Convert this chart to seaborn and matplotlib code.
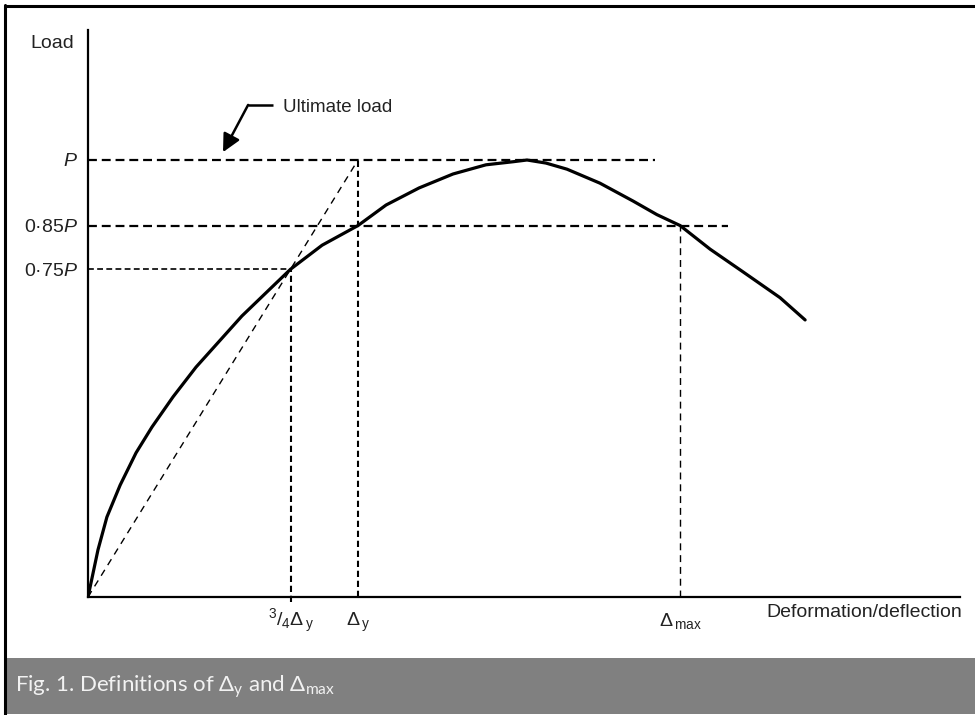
import matplotlib
matplotlib.use("Agg")
import matplotlib.pyplot as plt
import seaborn as sns
import pandas as pd
from matplotlib.lines import Line2D
from matplotlib.patches import Rectangle

# Load–deformation curve: deformation in units of Δy, load as a fraction of P
deformation = [0.0, 0.037, 0.070, 0.119, 0.178, 0.237, 0.315, 0.400, 0.570,
               0.750, 0.867, 1.000, 1.104, 1.226, 1.352, 1.474, 1.574, 1.626,
               1.696, 1.774, 1.896, 2.019, 2.107, 2.193, 2.304, 2.426, 2.563,
               2.656]
load = [0.0, 0.108, 0.183, 0.256, 0.330, 0.389, 0.458, 0.526, 0.643,
        0.750, 0.805, 0.850, 0.897, 0.936, 0.968, 0.989, 0.996, 1.000,
        0.993, 0.979, 0.947, 0.906, 0.875, 0.850, 0.796, 0.744, 0.685,
        0.634]

# Characteristic values
ultimate_load = 1.0
load_085 = 0.85
load_075 = 0.75
delta_y = 1.0
delta_34 = 0.75
delta_max = 2.193

ytick_values = [ultimate_load, load_085, load_075]
ytick_labels = ["$P$", "0·85$P$", "0·75$P$"]
xtick_values = [delta_34, delta_y, delta_max]
xtick_labels = [r"$^{3}/_{4}\Delta_{\,\mathrm{y}}$",
                r"$\Delta_{\,\mathrm{y}}$",
                r"$\Delta_{\,\mathrm{max}}$"]

sns.set_theme(style="white")
plt.rcParams["font.family"] = ["Liberation Sans", "DejaVu Sans"]
plt.rcParams["mathtext.fontset"] = "custom"
plt.rcParams["mathtext.rm"] = "Liberation Sans"
plt.rcParams["mathtext.it"] = "Liberation Sans:italic"
plt.rcParams["mathtext.bf"] = "Liberation Sans:bold"

fig = plt.figure(figsize=(9.75, 7.15), dpi=100)
fig.patch.set_facecolor("white")

# caption bar and frame
fig.add_artist(Rectangle((5 / 975, 0.002), 1 - 5 / 975, (713 - 657) / 715,
                         transform=fig.transFigure, facecolor="#808080",
                         edgecolor="none", zorder=0))
fig.add_artist(Line2D([5 / 975, 1.0], [1 - 6 / 715, 1 - 6 / 715],
                      transform=fig.transFigure, color="black", lw=2.2))
fig.add_artist(Line2D([5 / 975, 5 / 975], [1 - 5 / 715, 0.0],
                      transform=fig.transFigure, color="black", lw=2.2))
fig.text(15 / 975, (715 - 692) / 715,
         r"Fig. 1. Definitions of $\mathregular{\Delta_y}$ and $\mathregular{\Delta_{max}}$",
         family="Lato", weight="normal", fontsize=16, color="#f2f2f2",
         ha="left", va="baseline", zorder=5)

ax = fig.add_axes([88 / 975, (715 - 597) / 715, (960 - 88) / 975, (597 - 30) / 715])
ax.set_facecolor("none")

curve = pd.DataFrame({"deformation": deformation, "load": load})
sns.lineplot(data=curve, x="deformation", y="load", sort=False, estimator=None,
             color="black", lw=2.3, ax=ax, zorder=5)
for ln in ax.get_lines():
    ln.set_solid_joinstyle("round")

# secant stiffness line through the 0·75P point
ax.plot([0, delta_y], [0, ultimate_load], color="black", lw=1.0,
        ls=(0, (5, 4)), zorder=3)

# horizontal reference levels
ax.plot([0, 2.10], [ultimate_load, ultimate_load], color="black", lw=1.6,
        ls=(0, (4, 2.2)), zorder=3)
ax.plot([0, 2.37], [load_085, load_085], color="black", lw=1.6,
        ls=(0, (4, 2.2)), zorder=3)
ax.plot([0, delta_34], [load_075, load_075], color="black", lw=1.2,
        ls=(0, (3.5, 2)), zorder=3)

# vertical projections
ax.plot([delta_y, delta_y], [0, ultimate_load], color="black", lw=1.5,
        ls=(0, (3, 1.8)), zorder=3)
ax.plot([delta_34, delta_34], [-0.012, load_075], color="black", lw=1.5,
        ls=(0, (3, 1.8)), zorder=3, clip_on=False)
ax.plot([delta_max, delta_max], [0, load_085], color="black", lw=1.0,
        ls=(0, (5, 3.5)), zorder=3)

# ultimate load pointer
ax.plot([0.685, 0.593], [1.126, 1.126], color="black", lw=1.8,
        solid_capstyle="butt")
ax.annotate("", xy=(0.5, 1.018), xytext=(0.593, 1.126),
            arrowprops=dict(arrowstyle="-|>,head_length=0.9,head_width=0.45",
                            color="black", lw=1.8, shrinkA=0, shrinkB=0))
ax.text(0.722, 1.119, "Ultimate load", fontsize=13.5, color="#222222",
        ha="left", va="center")

ax.set_xlim(0, (960 - 88) / 270)
ax.set_ylim(0, (597 - 30) / 437)

for side in ["top", "right"]:
    ax.spines[side].set_visible(False)
for side in ["left", "bottom"]:
    ax.spines[side].set_color("black")
    ax.spines[side].set_linewidth(1.6)

ax.set_yticks(ytick_values)
ax.set_yticklabels(ytick_labels)
ax.set_xticks(xtick_values)
ax.set_xticklabels(xtick_labels)
ax.tick_params(axis="y", length=0, pad=7, labelsize=14, labelcolor="#222222")
ax.tick_params(axis="x", length=0, pad=21, labelsize=14, labelcolor="#222222")
for lbl in ax.get_xticklabels():
    lbl.set_verticalalignment("baseline")

ax.set_ylabel("Load", rotation=0, fontsize=14, color="#222222",
              ha="center", va="center")
ax.yaxis.set_label_coords(-0.041, 0.977)
ax.set_xlabel("Deformation/deflection", fontsize=14, color="#222222",
              ha="right", va="center")
ax.xaxis.set_label_coords(1.002, -0.027)

fig.savefig("out.png", dpi=100)
